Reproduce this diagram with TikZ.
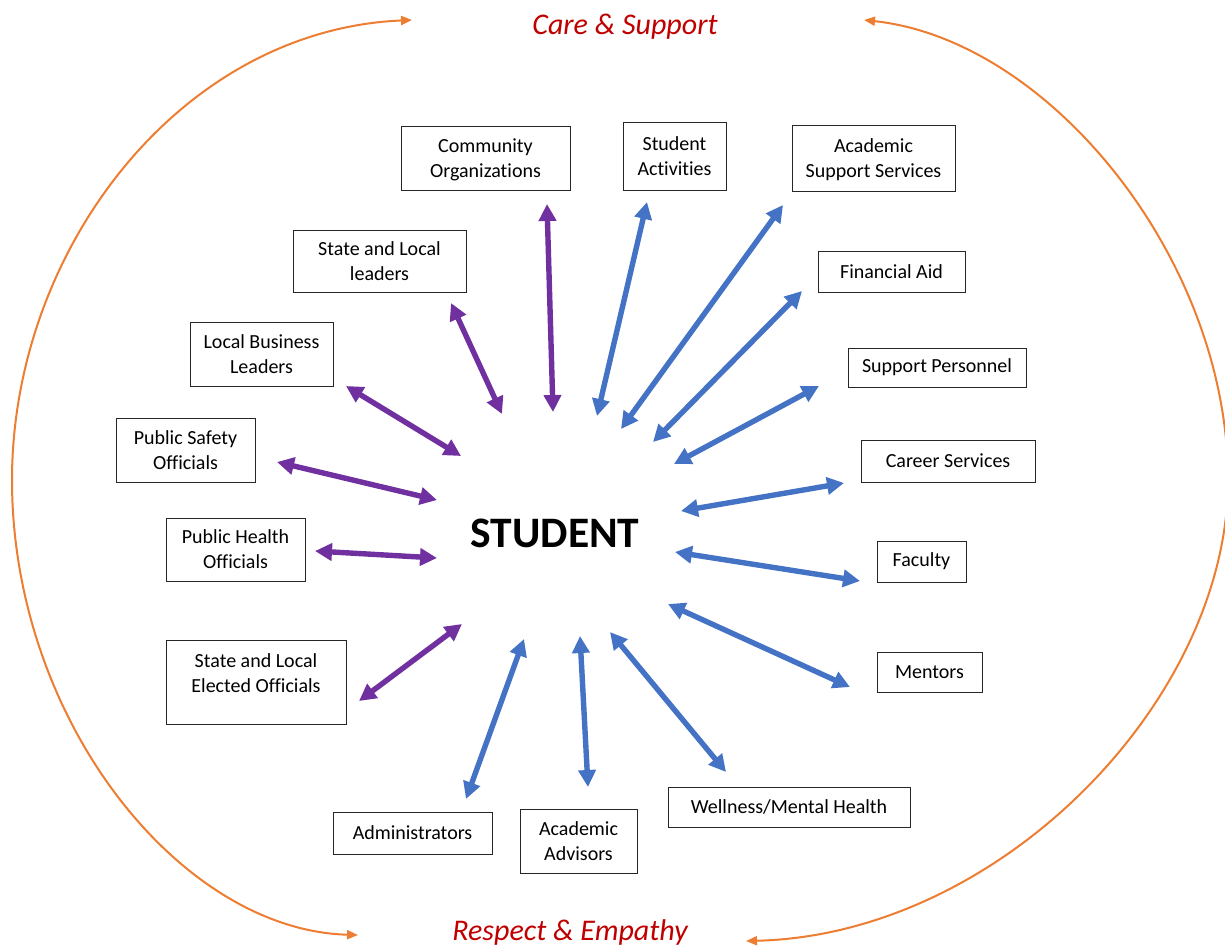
\documentclass[tikz,border=0pt]{standalone}
\usepackage{fontspec}
\setmainfont{Carlito}[Ligatures=NoCommon]
\usetikzlibrary{arrows.meta}
\definecolor{cpurple}{HTML}{7030A0}
\definecolor{cblue}{HTML}{4472C4}
\definecolor{corange}{HTML}{ED7D31}
\definecolor{cred}{HTML}{C00000}
\tikzset{
  box/.style={draw=black!85, line width=1pt, inner sep=0pt, align=center,
    font=\fontsize{20}{25}\selectfont},
  plain/.style={inner sep=0pt, align=center, font=\fontsize{20}{25}\selectfont},
  link/.style={line width=5.4pt, {Triangle[length=17pt,width=17pt]}-{Triangle[length=17pt,width=17pt]}},
  plink/.style={link, draw=cpurple},
  blink/.style={link, draw=cblue},
  arc/.style={draw=corange, line width=2pt, {Triangle[length=11pt,width=9pt]}-{Triangle[length=11pt,width=9pt]}},
  motto/.style={text=cred, font=\fontsize{30}{34}\selectfont\itshape, inner sep=0pt}
}
\begin{document}
\begin{tikzpicture}[x=1pt,y=-1pt]
\useasboundingbox (0,0) rectangle (1225,946);

% center
\node[font=\fontsize{43.5}{48}\selectfont\bfseries, inner sep=0pt] (stu) at (555,533) {STUDENT};

% mottos
\node[motto] (care) at (625,27) {Care \& Support};
\node[motto] (resp) at (570,932) {Respect \& Empathy};

% boxes
\node[box, minimum width=169pt, minimum height=64pt, text depth=-1.5pt] (comm) at (485.5,158) {Community\\Organizations};
\node[box, minimum width=103pt, minimum height=68pt, text depth=-1.5pt] (act) at (674.5,156) {Student\\Activities};
\node[box, minimum width=163pt, minimum height=66pt, text depth=-1.5pt] (acad) at (873.5,158) {Academic\\Support Services};
\node[box, minimum width=173pt, minimum height=62pt, text depth=-1.5pt] (sll) at (379.5,261) {State and Local\\leaders};
\node[box, minimum width=147pt, minimum height=41pt] (fin) at (891.5,271.5) {Financial Aid};
\node[box, minimum width=143pt, minimum height=64pt, text depth=-1.5pt] (lbl) at (261.5,354) {Local Business\\Leaders};
\node[box, minimum width=178pt, minimum height=39pt] (sp) at (937,367.5) {Support Personnel};
\node[box, minimum width=139pt, minimum height=64pt, text depth=-1.5pt] (pso) at (185.5,450) {Public Safety\\Officials};
\node[box, minimum width=174pt, minimum height=42pt] (car) at (948,461) {Career Services};
\node[box, minimum width=139pt, minimum height=63pt, text depth=-1.5pt] (pho) at (235.5,549.5) {Public Health\\Officials};
\node[box, minimum width=89pt, minimum height=41pt] (fac) at (921.5,561.5) {Faculty};
\node[box, minimum width=180pt, minimum height=84pt] (sle) at (256,682) {};
\node[plain] (sletext) at (256,673) {State and Local\\Elected Officials};
\node[box, minimum width=105pt, minimum height=40pt] (men) at (929.5,672) {Mentors};
\node[box, minimum width=242pt, minimum height=40pt] (well) at (789,807) {Wellness/Mental Health};
\node[box, minimum width=159pt, minimum height=42pt] (adm) at (412.5,833) {Administrators};
\node[box, minimum width=117pt, minimum height=64pt, text depth=-1.5pt] (adv) at (578.5,841) {Academic\\Advisors};

% arrow end points
\coordinate (p1a) at (547,204);  \coordinate (p1b) at (553,412);
\coordinate (p2a) at (451,303);  \coordinate (p2b) at (502,414);
\coordinate (p3a) at (346,386);  \coordinate (p3b) at (461,456);
\coordinate (p4a) at (277,462);  \coordinate (p4b) at (437,500);
\coordinate (p5a) at (315,551);  \coordinate (p5b) at (437,558);
\coordinate (p6a) at (359,701);  \coordinate (p6b) at (462,624);
\coordinate (b1a) at (647,202);  \coordinate (b1b) at (597,416);
\coordinate (b2a) at (783,205);  \coordinate (b2b) at (621,429);
\coordinate (b3a) at (802,291);  \coordinate (b3b) at (653,442);
\coordinate (b4a) at (819,386);  \coordinate (b4b) at (674,464);
\coordinate (b5a) at (844,483);  \coordinate (b5b) at (681,511);
\coordinate (b6a) at (860,581);  \coordinate (b6b) at (675,552);
\coordinate (b7a) at (850,687);  \coordinate (b7b) at (668,604);
\coordinate (b8a) at (726,772);  \coordinate (b8b) at (610,632);
\coordinate (b9a) at (588,787);  \coordinate (b9b) at (580,636);
\coordinate (b10a) at (466,799); \coordinate (b10b) at (524,639);

\draw[plink] (p1a) -- (p1b);
\draw[plink] (p2a) -- (p2b);
\draw[plink] (p3a) -- (p3b);
\draw[plink] (p4a) -- (p4b);
\draw[plink] (p5a) -- (p5b);
\draw[plink] (p6a) -- (p6b);
\draw[blink] (b1a) -- (b1b);
\draw[blink] (b2a) -- (b2b);
\draw[blink] (b3a) -- (b3b);
\draw[blink] (b4a) -- (b4b);
\draw[blink] (b5a) -- (b5b);
\draw[blink] (b6a) -- (b6b);
\draw[blink] (b7a) -- (b7b);
\draw[blink] (b8a) -- (b8b);
\draw[blink] (b9a) -- (b9b);
\draw[blink] (b10a) -- (b10b);

% orange arcs
\coordinate (la) at (412,20);
\coordinate (lm) at (12,480);
\coordinate (lb) at (358,935);
\coordinate (ra) at (864,20);
\coordinate (rm) at (1228,480);
\coordinate (rb) at (746,941);
\draw[arc] (la) .. controls (180,30) and (12,250) .. (lm) .. controls (12,720) and (180,930) .. (lb);
\draw[arc] (ra) .. controls (1050,40) and (1228,260) .. (rm) .. controls (1228,700) and (1000,935) .. (rb);
\end{tikzpicture}
\end{document}
